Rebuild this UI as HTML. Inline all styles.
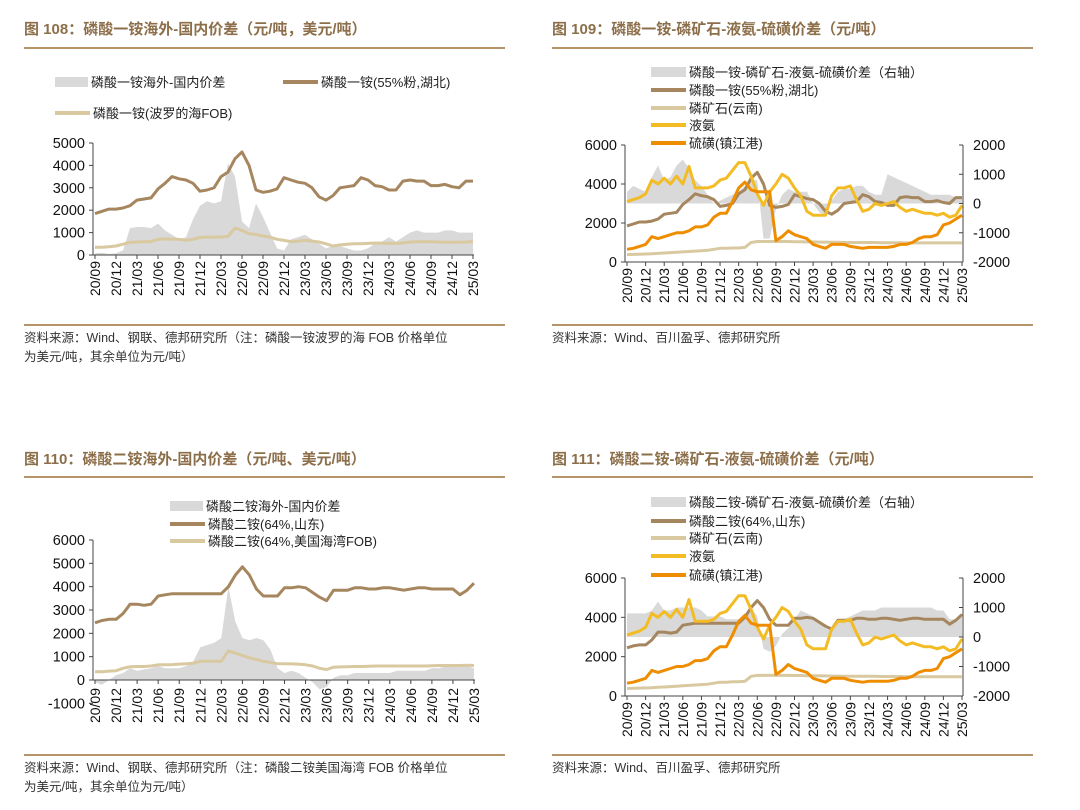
<!DOCTYPE html>
<html><head><meta charset="utf-8">
<style>
body{margin:0;background:#fff;}
#root{position:relative;width:1080px;height:810px;overflow:hidden;background:#fff;font-family:"Liberation Sans","Noto Sans CJK SC",sans-serif;}
svg text{font-family:"Liberation Sans","Noto Sans CJK SC",sans-serif;}
</style></head>
<body>
<div id="root">
<svg id="s" width="1080" height="810"></svg>
</div>
<script>
// ===== data (monthly, 2020/09 .. 2025/03) =====
const tickLabels=["20/09","20/12","21/03","21/06","21/09","21/12","22/03","22/06","22/09","22/12","23/03","23/06","23/09","23/12","24/03","24/06","24/09","24/12","25/03"];
const mapHubei=[1850,1950,2050,2050,2100,2200,2450,2500,2550,2950,3200,3500,3400,3350,3200,2850,2900,3000,3500,3700,4300,4600,4000,2900,2800,2850,2950,3450,3350,3250,3200,3000,2600,2450,2650,3000,3050,3100,3450,3350,3100,3050,2900,2900,3300,3350,3300,3300,3100,3100,3150,3050,3000,3300,3300];
const mapBalticFob=[350,350,370,400,480,570,580,590,600,700,720,700,700,650,700,780,800,800,800,830,1200,1100,950,920,850,800,700,650,600,620,650,620,580,500,400,450,480,500,500,520,530,530,520,520,540,580,590,590,590,580,570,570,570,580,600];
const mapGap=[80,100,50,80,200,1200,1250,1250,1200,1400,1100,900,700,800,1600,2200,2400,2300,2400,4100,3500,1500,1200,2300,1700,1000,300,200,700,800,900,700,500,300,400,400,300,200,200,300,500,600,800,600,800,1000,1100,1000,1000,1000,1100,1100,1000,1000,1000];
const rockYunnan=[380,390,400,410,420,440,460,480,500,520,540,560,580,600,650,700,700,720,720,750,1000,1050,1050,1050,1050,1050,1050,1040,1040,1030,1030,1020,1020,1010,1010,1000,1000,1000,1000,1000,1000,990,990,990,990,980,980,980,980,980,980,980,980,980,980];
const ammonia=[3100,3200,3300,3500,4200,4000,4300,4000,4400,4000,4900,3800,3800,3800,3900,4200,4300,4700,5100,5100,4400,3500,2900,3600,4000,4500,4300,3800,3400,2600,2400,2400,2400,3400,3800,3800,3900,3200,2600,2700,3000,2900,3000,3100,2800,2600,2700,2600,2500,2500,2400,2500,2300,2400,2900];
const sulfur=[650,700,800,900,1300,1200,1300,1400,1500,1500,1600,1800,1800,1900,2300,2500,2500,3100,3800,4100,3700,3600,3600,3600,1100,1300,1600,1400,1300,1200,900,800,700,900,900,900,800,750,700,750,750,750,750,800,900,900,1000,1200,1300,1300,1400,1900,2000,2200,2400];
const mapCostGap=[400,600,500,400,900,1300,800,900,1300,1500,1200,800,600,300,0,100,200,300,400,600,800,800,-1200,-1200,-200,300,500,400,400,400,0,-300,-400,100,400,500,500,600,600,400,300,300,1000,900,800,700,600,500,400,300,300,300,300,200,200];
const dapShandong=[2450,2550,2600,2600,2850,3250,3250,3200,3250,3600,3650,3700,3700,3700,3700,3700,3700,3700,3700,4000,4500,4850,4500,3900,3600,3600,3600,3950,3950,4000,3950,3750,3550,3400,3850,3850,3850,3950,3950,3900,3900,3950,3950,3900,3850,3900,3950,3950,3900,3900,3900,3900,3650,3850,4150];
const dapGulfFob=[350,350,380,400,500,570,580,580,600,650,650,660,680,700,720,800,800,800,800,1250,1150,1050,950,880,800,750,700,700,690,680,650,600,500,450,550,560,570,580,580,590,600,600,600,600,600,600,600,600,610,620,620,620,620,630,620];
const dapGap=[-100,-200,0,200,300,500,400,450,500,600,500,500,500,600,800,1400,1500,1600,1800,4000,2500,1800,1700,1800,1700,1300,500,300,400,300,100,-100,-400,-300,100,200,200,300,300,300,300,300,300,400,400,400,400,400,500,500,600,700,600,600,500];
const dapCostGap=[800,800,800,800,900,1200,900,900,1000,1000,1000,1000,900,700,700,700,600,600,600,800,1000,700,-400,-500,-300,100,300,600,900,800,700,500,300,200,500,600,700,800,900,900,900,1000,1000,1000,1000,1000,1000,1000,1000,1000,900,900,600,600,700];
const yTicks1=[0,1000,2000,3000,4000,5000];
const yTicks2=[0,2000,4000,6000];
const yTicksR=[-2000,-1000,0,1000,2000];
const yTicks3=[-1000,0,1000,2000,3000,4000,5000,6000];

const NS="http://www.w3.org/2000/svg";
const svg=document.getElementById('s');
function mk(tag,attrs,parent){const e=document.createElementNS(NS,tag);for(const k in attrs)e.setAttribute(k,attrs[k]);(parent||svg).appendChild(e);return e;}
function txt(x,y,s,size,fill,anchor,weight,parent){const t=mk('text',{x:x,y:y,'font-size':size,fill:fill||'#222','text-anchor':anchor||'start','font-weight':weight||'normal'},parent);t.textContent=s;return t;}

const C={brown:'#a5865e',tan:'#d9c9a0',gray:'#d9d9d9',yellow:'#f3bc25',orange:'#ef8d00',title:'#8c6f4a',rule:'#b8946a'};

function panel(p){
  const g=mk('g',{});
  
  
  const t=txt(p.tx,p.ty,p.title,15,C.title,'start','bold',g);
  
  
  const r1=mk('line',{x1:p.rx0,x2:p.rx1,y1:p.ruleTop,y2:p.ruleTop,stroke:C.rule,'stroke-width':2},g);
  
  
  const r2=mk('line',{x1:p.rx0,x2:p.rx1,y1:p.ruleBot,y2:p.ruleBot,stroke:C.rule,'stroke-width':2},g);
  
  
  p.source.forEach((s,i)=>{const st=txt(p.rx0,p.ruleBot+17+i*19,s,12.5,'#333','start','normal',g);
    
    });
  const yL=v=>p.y0+(v-p.lmin)/(p.lmax-p.lmin)*(p.y1-p.y0);
  const yR=v=>p.y0+(v-p.rmin)/(p.rmax-p.rmin)*(p.y1-p.y0);
  const xs=(i,n)=>p.x0+i*(p.x1-p.x0)/(n-1);
  const ay=p.areaRight?yR:yL;
  const a=p.area, n=a.length;
  let d='M'+xs(0,n)+','+ay(0);
  a.forEach((v,i)=>{d+=' L'+xs(i,n).toFixed(1)+','+ay(v).toFixed(1);});
  d+=' L'+xs(n-1,n)+','+ay(0)+' Z';
  const ap=mk('path',{d:d,fill:C.gray,stroke:'none'},g);
  
  
  p.lines.forEach(l=>{const m=l.data.length;
    const pts=l.data.map((v,i)=>xs(i,m).toFixed(1)+','+yL(v).toFixed(1)).join(' ');
    const pl=mk('polyline',{points:pts,fill:'none',stroke:l.color,'stroke-width':3,'stroke-linejoin':'round'},g);
    
    });
  const axisX=p.x0-2;
  const la=mk('line',{x1:axisX,x2:axisX,y1:yL(p.lmax),y2:yL(p.lmin),stroke:'#444','stroke-width':1},g);
  
  
  p.lt.forEach(v=>{mk('line',{x1:axisX-4,x2:axisX,y1:yL(v),y2:yL(v),stroke:'#444'},g);
    const tl=txt(axisX-8,yL(v)+5,String(v),14.5,'#111','end','normal',g);
    
    });
  if(p.areaRight){
    const rx=p.x1+1;
    const ra=mk('line',{x1:rx,x2:rx,y1:yR(p.rmax),y2:yR(p.rmin),stroke:'#444'},g);
    
    
    yTicksR.forEach(v=>{mk('line',{x1:rx-4,x2:rx,y1:yR(v),y2:yR(v),stroke:'#444'},g);
      const tr=txt(rx+10,yR(v)+5,String(v),14.5,'#111','start','normal',g);
      
      });
  }
  const bx=yL(0);
  const xa=mk('line',{x1:axisX,x2:p.x1+1,y1:bx,y2:bx,stroke:'#444'},g);
  
  
  const labY=p.labY||bx;
  tickLabels.forEach((s,k)=>{const x=p.x0+k*3*(p.x1-p.x0)/54;
    mk('line',{x1:x,x2:x,y1:bx,y2:bx+4,stroke:'#444'},g);
    const tl=txt(0,0,s,14,'#111','end','normal',g);
    tl.setAttribute('transform','translate('+(x+5)+','+(labY+6)+') rotate(-90)');
    
    });
  p.legend.forEach(e=>{
    const lg=mk('g',{},g);
    
    
    if(e.box) mk('rect',{x:e.x,y:e.y-5,width:e.w,height:10,fill:C.gray},lg);
    else mk('line',{x1:e.x,x2:e.x+e.w,y1:e.y,y2:e.y,stroke:e.color,'stroke-width':4},lg);
    txt(e.x+e.w+3,e.y+5,e.label,13,'#222','start','normal',lg);
  });
}

panel({name:'chart-108',tx:24,ty:34,title:'图 108：磷酸一铵海外-国内价差（元/吨，美元/吨）',rx0:24,rx1:505,ruleTop:48,ruleBot:325,
 source:['资料来源：Wind、钢联、德邦研究所（注：磷酸一铵波罗的海 FOB 价格单位','为美元/吨，其余单位为元/吨）'],
 x0:95,x1:473,y0:255,y1:143,lmin:0,lmax:5000,lt:yTicks1,area:mapGap,areaRight:false,
 lines:[{id:'line-map-baltic-fob',data:mapBalticFob,color:C.tan},{id:'line-map-hubei',data:mapHubei,color:C.brown}],
 legend:[{box:1,x:55,y:82,w:33,label:'磷酸一铵海外-国内价差'},{x:283,y:82,w:35,color:C.brown,label:'磷酸一铵(55%粉,湖北)'},{x:55,y:113,w:35,color:C.tan,label:'磷酸一铵(波罗的海FOB)'}]});

panel({name:'chart-109',tx:552,ty:34,title:'图 109：磷酸一铵-磷矿石-液氨-硫磺价差（元/吨）',rx0:552,rx1:1033,ruleTop:48,ruleBot:325,
 source:['资料来源：Wind、百川盈孚、德邦研究所'],
 x0:627,x1:962,y0:262,y1:145,lmin:0,lmax:6000,rmin:-2000,rmax:2000,lt:yTicks2,area:mapCostGap,areaRight:true,
 lines:[{id:'line-rock',data:rockYunnan,color:C.tan},{id:'line-map-hubei',data:mapHubei,color:C.brown},{id:'line-ammonia',data:ammonia,color:C.yellow},{id:'line-sulfur',data:sulfur,color:C.orange}],
 legend:[{box:1,x:651,y:72,w:35,label:'磷酸一铵-磷矿石-液氨-硫磺价差（右轴）'},{x:651,y:90,w:35,color:C.brown,label:'磷酸一铵(55%粉,湖北)'},{x:651,y:108,w:35,color:C.tan,label:'磷矿石(云南)'},{x:651,y:125,w:35,color:C.yellow,label:'液氨'},{x:651,y:143,w:35,color:C.orange,label:'硫磺(镇江港)'}]});

panel({name:'chart-110',tx:24,ty:464,title:'图 110：磷酸二铵海外-国内价差（元/吨、美元/吨）',rx0:24,rx1:505,ruleTop:477,ruleBot:755,
 source:['资料来源：Wind、钢联、德邦研究所（注：磷酸二铵美国海湾 FOB 价格单位','为美元/吨，其余单位为元/吨）'],
 x0:95,x1:474,y0:680,y1:540,lmin:0,lmax:6000,lt:yTicks3,area:dapGap,areaRight:false,labY:682,
 lines:[{id:'line-dap-gulf-fob',data:dapGulfFob,color:C.tan},{id:'line-dap-shandong',data:dapShandong,color:C.brown}],
 legend:[{box:1,x:170,y:506,w:33,label:'磷酸二铵海外-国内价差'},{x:170,y:524,w:35,color:C.brown,label:'磷酸二铵(64%,山东)'},{x:170,y:541,w:35,color:C.tan,label:'磷酸二铵(64%,美国海湾FOB)'}]});

panel({name:'chart-111',tx:552,ty:464,title:'图 111：磷酸二铵-磷矿石-液氨-硫磺价差（元/吨）',rx0:552,rx1:1033,ruleTop:477,ruleBot:755,
 source:['资料来源：Wind、百川盈孚、德邦研究所'],
 x0:627,x1:962,y0:696,y1:578,lmin:0,lmax:6000,rmin:-2000,rmax:2000,lt:yTicks2,area:dapCostGap,areaRight:true,
 lines:[{id:'line-rock',data:rockYunnan,color:C.tan},{id:'line-dap-shandong',data:dapShandong,color:C.brown},{id:'line-ammonia',data:ammonia,color:C.yellow},{id:'line-sulfur',data:sulfur,color:C.orange}],
 legend:[{box:1,x:651,y:502,w:35,label:'磷酸二铵-磷矿石-液氨-硫磺价差（右轴）'},{x:651,y:521,w:35,color:C.brown,label:'磷酸二铵(64%,山东)'},{x:651,y:538,w:35,color:C.tan,label:'磷矿石(云南)'},{x:651,y:556,w:35,color:C.yellow,label:'液氨'},{x:651,y:575,w:35,color:C.orange,label:'硫磺(镇江港)'}]});
</script>
</body></html>
